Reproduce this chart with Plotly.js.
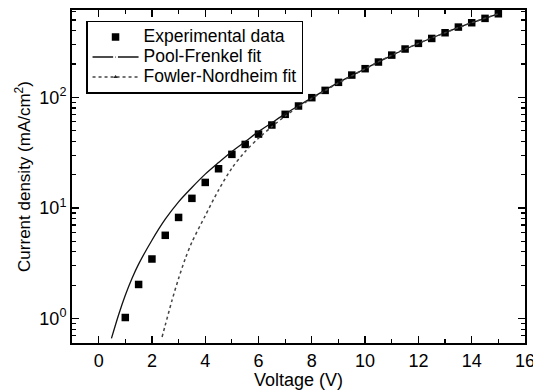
<!DOCTYPE html>
<html>
<head>
<meta charset="utf-8">
<script src="https://cdn.plot.ly/plotly-3.0.1.min.js"></script>
<style>html,body{margin:0;padding:0;background:#fff;}#chart{width:533px;height:390px;}</style>
</head>
<body>
<div id="chart"></div>
<script>
// Experimental data
const expVoltage = [1, 1.5, 2, 2.5, 3, 3.5, 4, 4.5, 5, 5.5, 6, 6.5, 7, 7.5, 8, 8.5, 9, 9.5, 10, 10.5, 11, 11.5, 12, 12.5, 13, 13.5, 14, 14.5, 15];
const expCurrent = [1.02, 2.03, 3.45, 5.65, 8.2, 12.2, 17.0, 22.6, 30.5, 37.5, 46.5, 56.2, 70.2, 83.5, 99.3, 115.6, 136.7, 159, 181.6, 208.6, 241, 273.6, 307.8, 341, 384, 432, 473, 518, 570];

// Pool-Frenkel fit
const pfVoltage = [0.48, 0.75, 1, 1.25, 1.5, 2, 2.5, 3, 3.5, 4, 4.5, 5, 5.5, 6, 6.5, 7, 7.5, 8, 9, 10, 11, 12, 13, 14, 15];
const pfCurrent = [0.66, 1.08, 1.62, 2.3, 3.1, 5.1, 7.9, 11.35, 15.3, 20.2, 25.7, 32.4, 39.8, 49, 58.9, 70.8, 84, 98.9, 136.5, 181.5, 240, 307, 384, 473, 570];

// Fowler-Nordheim fit
const fnVoltage = [2.38, 2.5, 2.75, 3, 3.25, 3.5, 4, 4.5, 5, 5.5, 6, 6.5, 7, 7.5, 8, 8.5, 9, 10, 11, 12, 13, 14, 15];
const fnCurrent = [0.68, 0.87, 1.45, 2.3, 3.47, 4.9, 8.5, 14.5, 22.9, 32.4, 42.7, 54.3, 67.6, 82.2, 97.7, 114.8, 135, 181, 241, 308, 384, 473, 570];

// Axis ticks
const xTickVals = [0, 2, 4, 6, 8, 10, 12, 14, 16];
const xTickText = ['0', '2', '4', '6', '8', '10', '12', '14', '16'];
const yTickVals = [1, 10, 100];
const yTickText = ['10<sup>0</sup>', '10<sup>1</sup>', '10<sup>2</sup>'];
const yDecades = [0.1, 1, 10, 100];

const seriesNames = ['Experimental data', 'Pool-Frenkel fit', 'Fowler-Nordheim fit'];

const yMinor = [];
yDecades.forEach(d => { for (let k = 2; k <= 9; k++) yMinor.push(k * d); });

const FONT = 'Arial, "Liberation Sans", Helvetica, sans-serif';
const legName = s => '<span style="font-size:17.5px">' + s + '</span>';

const traces = [
  {
    x: expVoltage, y: expCurrent, type: 'scatter', mode: 'markers',
    name: legName(seriesNames[0]),
    marker: {symbol: 'square', size: 7.5, color: '#000'}
  },
  {
    x: pfVoltage, y: pfCurrent, type: 'scatter', mode: 'lines',
    name: seriesNames[1], showlegend: false,
    line: {color: '#111', width: 1.3, shape: 'spline', smoothing: 0.8}
  },
  {
    x: fnVoltage, y: fnCurrent, type: 'scatter', mode: 'lines',
    name: seriesNames[2], showlegend: false,
    line: {color: '#444', width: 1.5, dash: 'dot', shape: 'spline', smoothing: 0.8}
  },
  {
    x: [null], y: [null], type: 'scatter', mode: 'lines+markers',
    name: legName(seriesNames[1]),
    line: {color: '#111', width: 1.3, dash: 'solid'},
    marker: {symbol: 'circle', size: 3, color: '#111', line: {color: '#fff', width: 2}}
  },
  {
    x: [null], y: [null], type: 'scatter', mode: 'lines+markers',
    name: legName(seriesNames[2]),
    line: {color: '#444', width: 1.5, dash: 'dot'},
    marker: {symbol: 'triangle-up', size: 4, color: '#222'}
  }
];

const layout = {
  width: 533, height: 390,
  margin: {l: 72, r: 8, t: 10, b: 47},
  paper_bgcolor: '#fff', plot_bgcolor: '#fff',
  font: {family: FONT, color: '#000', size: 16},
  showlegend: true,
  legend: {
    x: 0.031, y: 0.968, xanchor: 'left', yanchor: 'top',
    bgcolor: '#fff', bordercolor: '#000', borderwidth: 1.5,
    font: {family: FONT, size: 13, color: '#000'},
    tracegroupgap: 0, itemwidth: 46
  },
  xaxis: {
    range: [-1, 16],
    tickmode: 'array', tickvals: xTickVals, ticktext: xTickText,
    ticks: 'inside', ticklen: 7, tickwidth: 1.3, tickcolor: '#000',
    minor: {dtick: 1, tick0: 0, ticks: 'inside', ticklen: 4, tickwidth: 1.2, tickcolor: '#000', showgrid: false},
    showline: true, linecolor: '#000', linewidth: 2, mirror: 'ticks',
    showgrid: false, zeroline: false, ticklabeloverflow: 'allow',
    tickfont: {family: FONT, size: 18},
    title: {text: 'Voltage (V)', font: {family: FONT, size: 18}, standoff: 6}
  },
  yaxis: {
    type: 'log', range: [-0.222, 2.79],
    tickmode: 'array', tickvals: yTickVals, ticktext: yTickText,
    ticks: 'inside', ticklen: 7, tickwidth: 1.3, tickcolor: '#000',
    minor: {tickmode: 'array', tickvals: yMinor, ticks: 'inside', ticklen: 4, tickwidth: 1.2, tickcolor: '#000', showgrid: false},
    showline: true, linecolor: '#000', linewidth: 2, mirror: 'ticks',
    showgrid: false, zeroline: false,
    tickfont: {family: FONT, size: 18},
    title: {text: 'Current density (mA/cm<sup>2</sup>)', font: {family: FONT, size: 17}, standoff: 4}
  }
};

Plotly.newPlot('chart', traces, layout, {staticPlot: true, displayModeBar: false});
</script>
</body>
</html>
